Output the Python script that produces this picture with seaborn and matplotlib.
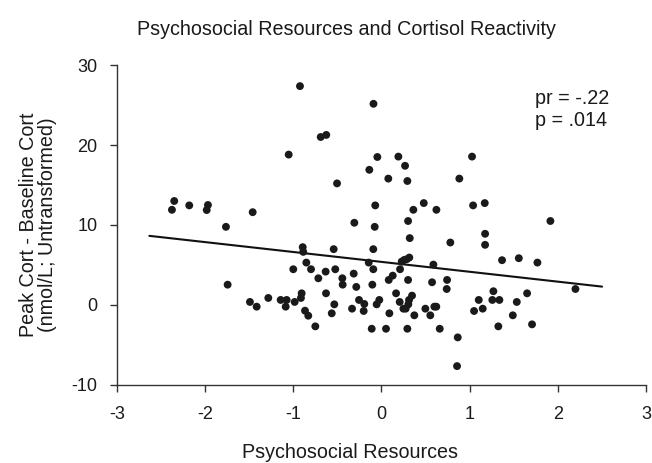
import matplotlib
matplotlib.use("Agg")
import matplotlib.pyplot as plt
import seaborn as sns
import numpy as np
import pandas as pd

# ---- data ----
resources = [
    -0.923, -0.090, -0.688, -0.625, -1.051, -0.046, -0.137, -0.503, -2.348, -2.374,
    -2.178, -1.966, -1.980, -1.459, -0.070, -0.307, -0.076, -1.762, 0.192, 0.268,
    0.078, 0.294, 1.027, 0.883, 0.362, 0.480, 0.623, 1.039, 1.171, 0.302,
    1.915, -1.743, -1.490, -1.414, -1.282, -1.142, -1.074, -1.085, -0.983, -0.904,
    -0.912, -0.892, -0.886, -0.851, -0.999, -0.798, -0.715, -0.632, -0.523, -0.541,
    -0.628, -0.443, -0.439, -0.534, -0.563, -0.866, -0.829, -0.749, -0.314, -0.285,
    -0.254, -0.194, -0.333, -0.201, -0.110, -0.092, -0.144, -0.092, -0.103, -0.054,
    -0.024, 0.321, 0.781, 1.175, 1.175, 0.052, 0.294, 0.661, 0.865, 0.857,
    0.230, 0.260, 0.287, 0.316, 0.211, 0.083, 0.128, 0.302, 0.589, 0.574,
    0.744, 0.740, 0.166, 0.207, 0.313, 0.347, 0.305, 0.249, 0.275, 0.090,
    0.373, 0.498, 0.600, 0.622, 0.554, 1.050, 1.148, 1.103, 1.257, 1.337,
    1.269, 1.325, 1.534, 1.489, 1.651, 1.707, 1.367, 1.557, 1.768, 2.199,
]
cortisol_change = [
    27.36, 25.15, 21.00, 21.26, 18.80, 18.50, 16.90, 15.20, 13.00, 11.90,
    12.45, 12.50, 11.87, 11.60, 12.45, 10.28, 9.77, 9.77, 18.55, 17.40,
    15.80, 15.50, 18.55, 15.80, 11.90, 12.74, 11.90, 12.45, 12.74, 10.50,
    10.50, 2.54, 0.38, -0.21, 0.88, 0.63, 0.63, -0.21, 0.38, 1.46,
    0.88, 7.23, 6.64, 5.30, 4.47, 4.47, 3.34, 4.17, 4.47, 6.98,
    1.46, 3.34, 2.54, 0.08, -1.04, -0.71, -1.34, -2.67, 3.92, 2.26,
    0.63, 0.13, -0.46, -0.75, -2.97, 6.98, 5.30, 4.47, 2.54, 0.08,
    0.63, 8.36, 7.81, 8.90, 7.52, -2.97, -2.97, -2.97, -4.05, -7.64,
    5.43, 5.64, 5.72, 5.93, 4.47, 3.13, 3.67, 3.13, 5.05, 2.84,
    3.13, 2.00, 1.46, 0.38, 0.63, 1.17, 0.08, -0.46, -0.46, -1.04,
    -1.29, -0.46, -0.21, -0.21, -1.29, -0.75, -0.46, 0.63, 0.63, 0.63,
    1.72, -2.67, 0.38, -1.29, 1.46, -2.42, 5.60, 5.85, 5.30, 2.00,
]

# fitted partial-regression line (intercept, slope) and its x-range
fit_intercept = 5.39
fit_slope = -1.237
fit_x_range = [-2.63, 2.50]

x_ticks = [-3, -2, -1, 0, 1, 2, 3]
y_ticks = [-10, 0, 10, 20, 30]

title = "Psychosocial Resources and Cortisol Reactivity"
x_label = "Psychosocial Resources"
y_label = "Peak Cort - Baseline Cort\n(nmol/L; Untransformed)"
stat_text = "pr = -.22\np = .014"

# ---- plotting ----
sns.set_style("ticks")
plt.rcParams["font.family"] = ["Liberation Sans", "DejaVu Sans"]

df = pd.DataFrame({"x": resources, "y": cortisol_change})
fit_df = pd.DataFrame({"x": fit_x_range})
fit_df["y"] = fit_intercept + fit_slope * fit_df["x"]

fig = plt.figure(figsize=(6.52, 4.63), dpi=100)
ax = fig.add_axes([0.179, 0.1685, 0.812, 0.6911])

sns.scatterplot(data=df, x="x", y="y", ax=ax, color="#1a1a1a", s=32,
                edgecolor="none", linewidth=0, zorder=3)
sns.lineplot(data=fit_df, x="x", y="y", ax=ax, color="#111111", linewidth=1.5,
             zorder=2)

ax.set_xlim(-3, 3)
ax.set_ylim(-10, 30)
ax.set_xticks(x_ticks)
ax.set_yticks(y_ticks)
ax.set_xticklabels([str(t) for t in x_ticks])
ax.set_yticklabels([str(t) for t in y_ticks])

sns.despine(ax=ax)
for sp in ["left", "bottom"]:
    ax.spines[sp].set_color("#333333")
    ax.spines[sp].set_linewidth(1.0)
ax.tick_params(axis="both", direction="out", length=5, width=1.0,
               color="#333333", labelsize=13, labelcolor="#1a1a1a")
ax.tick_params(axis="x", pad=10)
ax.tick_params(axis="y", pad=9)

ax.set_xlabel(x_label, fontsize=14.2, color="#1a1a1a")
ax.xaxis.set_label_coords(0.44, -0.18)
ax.set_ylabel(y_label, fontsize=14.2, color="#1a1a1a", labelpad=10,
              linespacing=1.05)
fig.text(0.531, 0.937, title, ha="center", va="center", fontsize=14.2,
         color="#1a1a1a")
ax.text(0.79, 0.925, stat_text, transform=ax.transAxes, ha="left",
        va="top", fontsize=14.2, color="#1a1a1a", linespacing=1.2)

fig.savefig("out.png", dpi=100)
